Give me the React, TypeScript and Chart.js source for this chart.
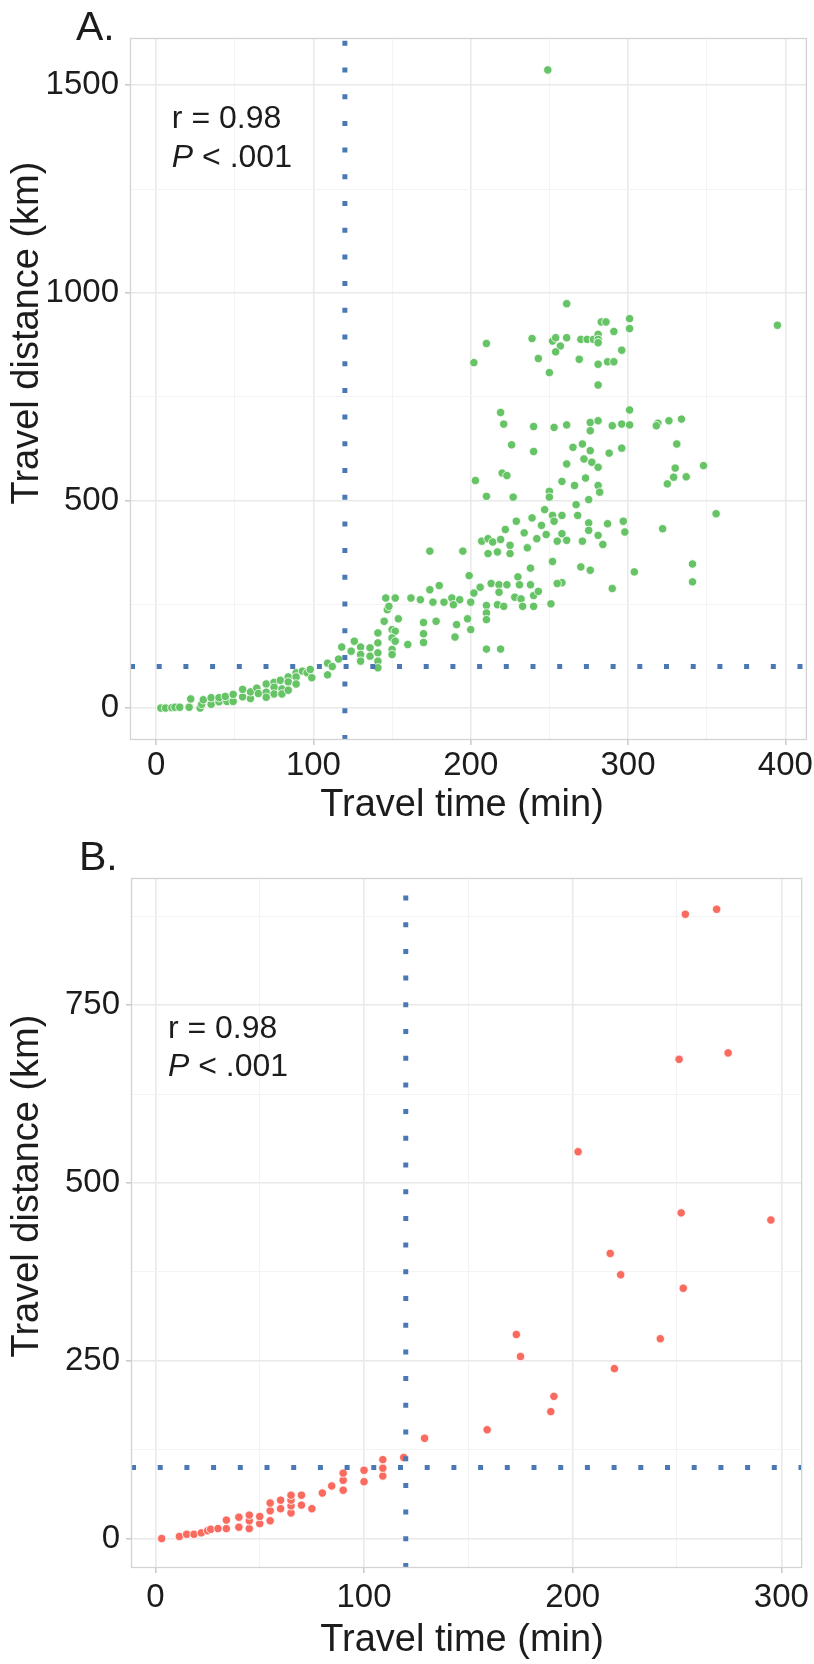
import React, { useEffect, useRef } from 'react';
import { Chart, registerables } from 'chart.js';
Chart.register(...registerables);

// ---------- Panel A data (travel time in min, travel distance in km) ----------
const timeA = [
  249,
  261, 283, 286, 301, 301, 291, 239, 210, 202, 252, 254, 261, 257, 254, 243, 250, 270, 274, 278, 281, 281, 281, 269, 281, 287, 291, 296, 281, 395,
  219, 221, 240, 253, 261, 276, 281, 276, 290, 296, 301, 301, 319, 326, 334, 318, 226, 240, 265, 271, 276, 272, 277, 281, 261, 288, 296, 331, 220, 223, 203, 258, 266, 273, 281, 282, 275, 330, 329, 325, 337, 348, 210, 227, 250, 250,
  267, 268, 356, 322, 247, 252, 258, 253, 239, 229, 222, 245, 234, 242, 248, 258, 255, 261, 275, 287, 297, 275, 281, 284, 271, 298, 207, 211, 214, 219, 225, 211, 217, 225, 236, 174, 195,
  270, 276, 304, 341, 341, 258, 290,
  126, 124, 130, 130, 130, 136, 136, 141, 141, 141, 141, 141, 146, 152, 147, 148, 145, 154, 150, 152, 150, 152, 150, 150, 160, 162, 168, 174, 180, 176, 170, 170, 170, 178, 183, 188, 193, 189, 191, 198, 190, 200, 202, 206, 199, 200, 210, 210, 210, 213, 218, 217, 221, 210, 219, 223, 230, 231, 238, 238, 218, 228, 232, 240, 243, 233, 240, 251, 255, 252,
  3, 6, 10, 12, 15, 21, 22, 28, 29, 30, 35, 35, 40, 40, 45, 44, 49, 49, 55, 55, 60, 60, 64, 65, 70, 70, 70, 75, 75, 75, 79, 80, 80, 84, 84, 84, 89, 89, 89, 93, 96, 98, 99, 109, 109, 118, 116, 112,
];
const distA = [
  1537,
  974, 930, 930, 938, 914, 907, 890, 878, 832, 884, 892, 892, 872, 858, 842, 808, 888, 888, 888, 900, 888, 880, 840, 828, 834, 834, 862, 778, 922,
  712, 684, 678, 676, 682, 688, 692, 668, 680, 684, 682, 718, 686, 692, 696, 680, 634, 618, 628, 636, 620, 600, 592, 580, 588, 614, 626, 636, 566, 560, 548, 546, 536, 554, 536, 520, 502, 578, 556, 540, 557, 584, 510, 508, 522, 508,
  490, 464, 468, 432, 478, 464, 464, 450, 458, 450, 430, 440, 422, 408, 418, 420, 402, 404, 446, 444, 450, 428, 416, 394, 402, 424, 402, 408, 400, 406, 392, 372, 376, 372, 386, 378, 378,
  340, 332, 328, 347, 304, 302, 288,
  161, 137, 147, 129, 113, 145, 125, 181, 157, 133, 113, 97, 265, 265, 237, 245, 209, 215, 189, 185, 169, 161, 141, 129, 153, 265, 261, 285, 295, 255, 206, 179, 158, 209, 255, 265, 261, 249, 201, 215, 171, 255, 277, 291, 319, 189, 247, 229, 213, 300, 297, 249, 245, 142, 142, 297, 316, 297, 297, 337, 279, 267, 263, 271, 281, 245, 245, 251, 300, 353,
  0, 0, 1, 2, 2, 2, 22, 0, 9, 20, 9, 25, 15, 25, 16, 28, 16, 33, 27, 45, 23, 39, 48, 35, 58, 38, 26, 62, 50, 34, 67, 46, 34, 75, 63, 43, 85, 75, 58, 89, 85, 93, 73, 108, 80, 147, 118, 100,
];

// ---------- Panel B data ----------
const timeB = [
  3, 11.5, 15, 18.5, 22, 25, 26.5, 30, 34, 34, 40, 40, 45, 45, 45, 50, 50, 55, 55, 55, 60, 60, 65, 65, 65, 65, 70, 70, 75, 80, 84.5, 90, 90, 90, 100, 100, 109, 109, 109, 119,
  129, 159, 189.5, 191, 173, 175, 242, 220, 218, 223, 253, 252, 295, 202.6, 251, 274.5, 254, 269,
];
const distB = [
  0, 3, 6, 6, 8, 11, 13, 14, 14, 26, 16, 30, 14, 25, 33, 21, 31, 25, 39, 50, 42, 54, 36, 46, 54, 61, 47, 61, 42, 64, 74, 68, 82, 92, 80, 96, 88, 99, 111, 114,
  141, 153, 178.5, 200, 287, 256, 281, 239, 401, 371, 352, 458, 448, 544, 674, 683, 878, 885,
];

// ---------- Tick values ----------
const xMajorA = [0, 100, 200, 300, 400];
const xMinorA = [50, 150, 250, 350];
const yMajorA = [0, 500, 1000, 1500];
const yMinorA = [250, 750, 1250];
const xMajorB = [0, 100, 200, 300];
const xMinorB = [50, 150, 250];
const yMajorB = [0, 250, 500, 750];
const yMinorB = [125, 375, 625, 875];

// Reference cut-offs
const cutTime = 120;
const cutDist = 100;

// Texts
const xTitle = 'Travel time (min)';
const yTitle = 'Travel distance (km)';
const statR = 'r = 0.98';
const statPLetter = 'P';
const statPRest = ' < .001';

const FONT = '"Liberation Sans", Arial, Helvetica, sans-serif';
const TEXT = '#1c1c1c';

type Panel = {
  label: string;
  time: number[];
  dist: number[];
  color: string;
  xMajor: number[];
  xMinor: number[];
  yMajor: number[];
  yMinor: number[];
  xMin: number;
  xMax: number;
  yMin: number;
  yMax: number;
  width: number;
  height: number;
  padTop: number;
  padRight: number;
  yAxisWidth: number;
  xAxisHeight: number;
  xTickPad: number;
  labelPos: [number, number];
  statAt: [number, number];
  xTitlePos: [number, number];
  yTitlePos: [number, number];
};

const panelA: Panel = {
  label: 'A.',
  time: timeA,
  dist: distA,
  color: '#66C466',
  xMajor: xMajorA,
  xMinor: xMinorA,
  yMajor: yMajorA,
  yMinor: yMinorA,
  xMin: -16.6,
  xMax: 413.7,
  yMin: -76.9,
  yMax: 1613.9,
  width: 814,
  height: 830,
  padTop: 38,
  padRight: 5,
  yAxisWidth: 130,
  xAxisHeight: 90,
  xTickPad: 1,
  labelPos: [76, 40],
  statAt: [10, 1396],
  xTitlePos: [462, 806],
  yTitlePos: [28, 333],
};

const panelB: Panel = {
  label: 'B.',
  time: timeB,
  dist: distB,
  color: '#F96B5F',
  xMajor: xMajorB,
  xMinor: xMinorB,
  yMajor: yMajorB,
  yMinor: yMinorB,
  xMin: -11.7,
  xMax: 310,
  yMin: -41.4,
  yMax: 929,
  width: 814,
  height: 834,
  padTop: 48,
  padRight: 4,
  yAxisWidth: 131,
  xAxisHeight: 96,
  xTickPad: 5,
  labelPos: [79, 40],
  statAt: [6, 704],
  xTitlePos: [462, 811],
  yTitlePos: [28, 356],
};

function makeAxis(major: number[], minor: number[], min: number, max: number, isX: boolean, p: Panel) {
  const all = [...major, ...minor].sort((a, b) => a - b);
  const isMajor = (v: number) => major.includes(v);
  return {
    type: 'linear' as const,
    min,
    max,
    afterBuildTicks: (scale: any) => {
      scale.ticks = all.map((v) => ({ value: v }));
    },
    afterFit: (scale: any) => {
      if (isX) scale.height = p.xAxisHeight;
      else scale.width = p.yAxisWidth;
    },
    ticks: {
      autoSkip: false,
      maxRotation: 0,
      minRotation: 0,
      padding: isX ? p.xTickPad : 6,
      color: TEXT,
      font: { family: FONT, size: 33 },
      callback: (v: any) => (isMajor(Number(v)) ? String(v) : ''),
    },
    grid: {
      drawTicks: true,
      tickLength: 5,
      color: (c: any) => (isMajor(c.tick?.value) ? '#e9e9e9' : '#f3f3f3'),
      lineWidth: (c: any) => (isMajor(c.tick?.value) ? 1.6 : 1),
      tickColor: (c: any) => (isMajor(c.tick?.value) ? '#c9c9c9' : 'rgba(0,0,0,0)'),
      tickWidth: 1.5,
    },
    border: { display: false },
  };
}

function decorPlugin(p: Panel) {
  return {
    id: 'decor' + p.label,
    afterDraw(chart: any) {
      const { ctx, chartArea: a, scales } = chart;
      ctx.save();
      // panel border
      ctx.strokeStyle = '#d3d3d3';
      ctx.lineWidth = 1.3;
      ctx.strokeRect(a.left + 0.5, a.top + 0.5, a.right - a.left - 1, a.bottom - a.top - 1);
      ctx.fillStyle = TEXT;
      // panel letter
      ctx.textAlign = 'left';
      ctx.textBaseline = 'alphabetic';
      ctx.font = `41px ${FONT}`;
      ctx.fillText(p.label, p.labelPos[0], p.labelPos[1]);
      // statistics annotation (anchored in data coordinates)
      const sx = scales.x.getPixelForValue(p.statAt[0]);
      const sy = scales.y.getPixelForValue(p.statAt[1]);
      ctx.font = `32px ${FONT}`;
      ctx.fillText(statR, sx, sy);
      ctx.font = `italic 32px ${FONT}`;
      ctx.fillText(statPLetter, sx, sy + 38.5);
      const w = ctx.measureText(statPLetter).width;
      ctx.font = `32px ${FONT}`;
      ctx.fillText(statPRest, sx + w, sy + 38.5);
      // axis titles
      ctx.textAlign = 'center';
      ctx.textBaseline = 'middle';
      ctx.font = `38px ${FONT}`;
      ctx.fillText(xTitle, p.xTitlePos[0], p.xTitlePos[1]);
      ctx.translate(p.yTitlePos[0], p.yTitlePos[1]);
      ctx.rotate(-Math.PI / 2);
      ctx.font = `38px ${FONT}`;
      ctx.fillText(yTitle, 0, 0);
      ctx.restore();
    },
  };
}

function PanelChart({ p }: { p: Panel }) {
  const ref = useRef<HTMLCanvasElement | null>(null);
  useEffect(() => {
    if (!ref.current) return;
    const points = p.time.map((t, i) => ({ x: t, y: p.dist[i] }));
    const chart = new Chart(ref.current, {
      type: 'scatter',
      data: {
        datasets: [
          {
            type: 'line',
            data: [
              { x: cutTime, y: p.yMin },
              { x: cutTime, y: p.yMax },
            ],
            borderColor: '#4A78B4',
            borderWidth: 5,
            borderDash: [5, 21.7],
            borderCapStyle: 'butt',
            pointRadius: 0,
            fill: false,
            order: 0,
          } as any,
          {
            type: 'line',
            data: [
              { x: p.xMin, y: cutDist },
              { x: p.xMax, y: cutDist },
            ],
            borderColor: '#4A78B4',
            borderWidth: 5,
            borderDash: [5, 21.7],
            borderCapStyle: 'butt',
            pointRadius: 0,
            fill: false,
            order: 0,
          } as any,
          {
            type: 'scatter',
            data: points,
            backgroundColor: p.color,
            borderColor: '#ffffff',
            borderWidth: 0.8,
            pointRadius: 4.2,
            order: 1,
          } as any,
        ],
      },
      options: {
        responsive: false,
        animation: false,
        devicePixelRatio: 1,
        layout: { padding: { top: p.padTop, right: p.padRight, left: 0, bottom: 0 } },
        plugins: { legend: { display: false }, tooltip: { enabled: false } },
        scales: {
          x: makeAxis(p.xMajor, p.xMinor, p.xMin, p.xMax, true, p) as any,
          y: makeAxis(p.yMajor, p.yMinor, p.yMin, p.yMax, false, p) as any,
        },
      },
      plugins: [decorPlugin(p)],
    });
    return () => chart.destroy();
  }, [p]);
  return <canvas ref={ref} width={p.width} height={p.height} style={{ display: 'block', width: p.width, height: p.height }} />;
}

export default function App() {
  return (
    <div style={{ position: 'absolute', left: 0, top: 0, width: 814, height: 1664, background: '#ffffff' }}>
      <PanelChart p={panelA} />
      <PanelChart p={panelB} />
    </div>
  );
}
